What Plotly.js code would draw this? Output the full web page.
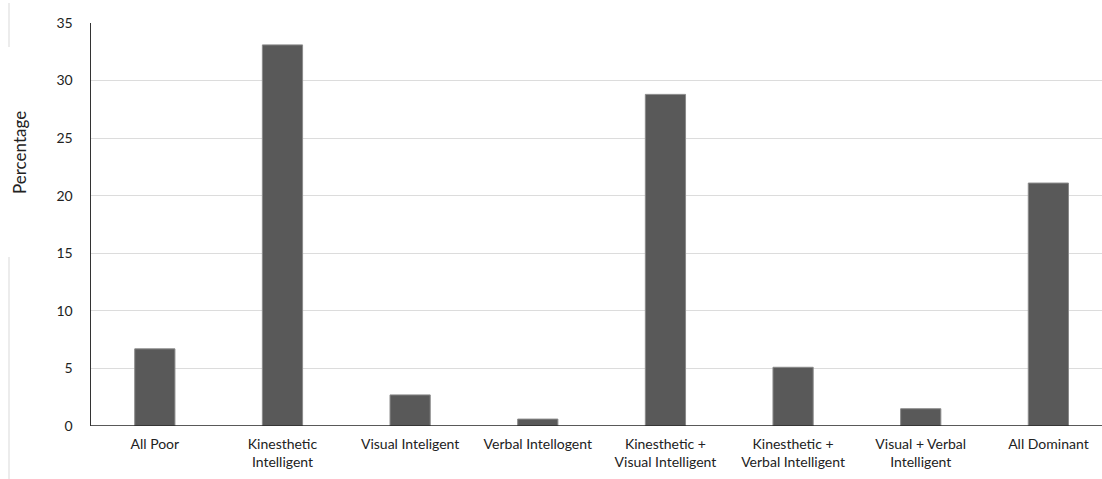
<!DOCTYPE html>
<html>
<head>
<meta charset="utf-8">
<script src="https://cdn.plot.ly/plotly-3.0.1.min.js"></script>
<style>html,body{margin:0;padding:0;background:#fff;}#chart{width:1102px;height:479px;}</style>
</head>
<body>
<div id="chart"></div>
<script>
const categories = [
  "All Poor",
  "Kinesthetic<br>Intelligent",
  "Visual Inteligent",
  "Verbal Intellogent",
  "Kinesthetic +<br>Visual Intelligent",
  "Kinesthetic +<br>Verbal Intelligent",
  "Visual + Verbal<br>Intelligent",
  "All Dominant"
];
const percentages = [6.7, 33.1, 2.7, 0.6, 28.8, 5.1, 1.5, 21.1];
const yTickValues = [0, 5, 10, 15, 20, 25, 30, 35];

const font = "Lato, 'Open Sans', sans-serif";

const trace = {
  type: "bar",
  x: categories.map((c, i) => i),
  y: percentages,
  width: 0.315,
  marker: {color: "#595959", line: {color: "#8a8a8a", width: 1}},
  hoverinfo: "skip"
};

const layout = {
  width: 1102,
  height: 479,
  margin: {l: 91, r: 0, t: 23, b: 53},
  paper_bgcolor: "#ffffff",
  plot_bgcolor: "#ffffff",
  showlegend: false,
  font: {family: font, size: 12, color: "#222"},
  xaxis: {
    range: [-0.5, 7.42],
    tickmode: "array",
    tickvals: categories.map((c, i) => i),
    ticktext: categories,
    showgrid: false,
    zeroline: false,
    showline: false,
    ticks: "",
    ticklabelstandoff: 8,
    tickfont: {family: font, size: 14, color: "#222"},
    fixedrange: true
  },
  yaxis: {
    range: [0, 35],
    tickmode: "array",
    tickvals: yTickValues,
    showgrid: true,
    gridcolor: "#dcdcdc",
    gridwidth: 1,
    zeroline: false,
    showline: true,
    linecolor: "#333",
    linewidth: 1.5,
    ticks: "",
    ticklabelstandoff: 14,
    tickfont: {family: font, size: 14, color: "#222"},
    fixedrange: true
  },
  shapes: [
    {type: "line", xref: "paper", yref: "y", x0: 0, x1: 1, y0: 0, y1: 0, line: {color: "#222", width: 1.5}},
    {type: "line", xref: "paper", yref: "paper", x0: -82/1011, x1: -82/1011, y0: (426-3)/403, y1: (426-47)/403, line: {color: "#d9d9d9", width: 1}},
    {type: "line", xref: "paper", yref: "paper", x0: -82/1011, x1: -82/1011, y0: (426-257)/403, y1: (426-479)/403, line: {color: "#d9d9d9", width: 1}}
  ],
  annotations: [
    {
      text: "Percentage",
      xref: "paper", yref: "paper",
      x: (19-91)/1011, y: (426-153)/403,
      xanchor: "center", yanchor: "middle",
      textangle: -90,
      showarrow: false,
      font: {family: font, size: 17, color: "#222"}
    }
  ]
};

Plotly.newPlot("chart", [trace], layout, {displayModeBar: false, staticPlot: true});
</script>
</body>
</html>
